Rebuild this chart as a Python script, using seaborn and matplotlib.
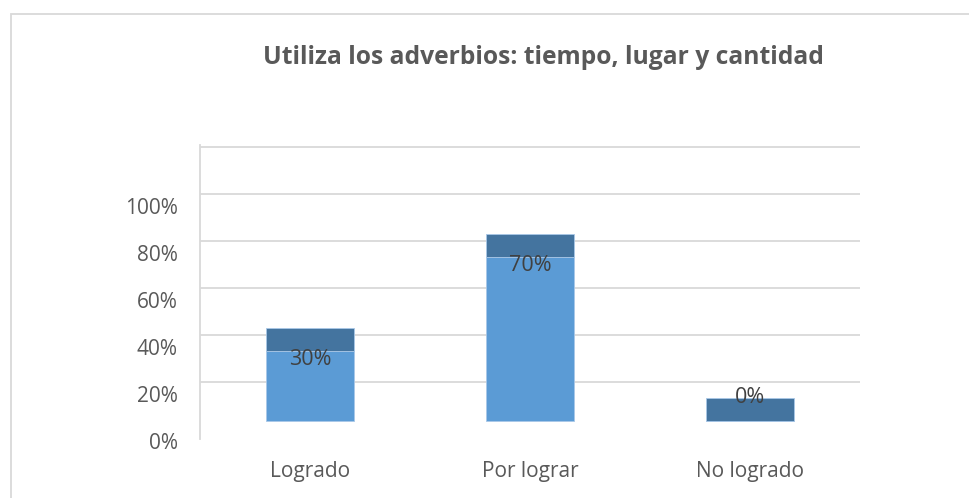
import matplotlib
matplotlib.use("Agg")
import matplotlib.pyplot as plt
import matplotlib.transforms as mtransforms
from matplotlib.patches import Rectangle
import seaborn as sns
import pandas as pd

# datos del grafico
categorias = ["Logrado", "Por lograr", "No logrado"]
porcentajes = [30, 70, 0]
ticks_y = [0, 20, 40, 60, 80, 100, 120]
etiquetas_y = ["0%", "20%", "40%", "60%", "80%", "100%", ""]
titulo = "Utiliza los adverbios: tiempo, lugar y cantidad"

sns.set_style("white")
plt.rcParams["font.family"] = ["Open Sans", "DejaVu Sans"]

gris = "#595959"
azul = "#5B9BD5"
azul_osc = "#44749F"
piso = 3.4    # desplazamiento del "3D"
tapa = 9.6    # alto de la cara superior

df = pd.DataFrame({"cat": categorias, "val": porcentajes})

fig = plt.figure(figsize=(9.7, 4.98), dpi=100)
ax = fig.add_axes([200 / 970, 59 / 498, 660 / 970, 294 / 498])

sns.barplot(data=df, x="cat", y="val", color=azul, width=0.4, saturation=1,
            edgecolor="#A9C8E8", linewidth=0.6, ax=ax)
for p in ax.patches:
    p.set_y(piso)

pos = list(range(len(categorias)))
ax.bar(pos, [tapa] * len(pos), bottom=[piso + v for v in porcentajes], width=0.4,
       color=azul_osc, edgecolor="#A9C8E8", linewidth=0.6, zorder=3)

for x, v in zip(pos, porcentajes):
    y = piso + v - 3.8 if v > 0 else piso + tapa + 0.2
    ax.text(x, y, f"{v}%", ha="center", va="center", fontsize=15.5, color="#404040", zorder=4)

ax.set_xlim(-0.5, 2.5)
ax.set_ylim(-4.26, 120.85)
ax.set_yticks(ticks_y)
ax.set_yticklabels(etiquetas_y)
ax.yaxis.grid(True, color="#D9D9D9", linewidth=1.3)
ax.get_ygridlines()[0].set_visible(False)
ax.set_axisbelow(True)
ax.tick_params(axis="y", length=0, pad=16, labelsize=15, labelcolor=gris)
ax.tick_params(axis="x", length=0, pad=16, labelsize=15, labelcolor=gris)
desplaza = mtransforms.ScaledTranslation(0, -12 / 100, fig.dpi_scale_trans)
for lab in ax.get_yticklabels():
    lab.set_transform(lab.get_transform() + desplaza)
ax.set_xlabel("")
ax.set_ylabel("")

for s in ["top", "right", "bottom"]:
    ax.spines[s].set_visible(False)
ax.spines["left"].set_color("#D9D9D9")
ax.spines["left"].set_linewidth(1.3)

fig.text(543 / 970, 1 - 57 / 498, titulo, ha="center", va="center",
         fontsize=17.7, fontweight="bold", color=gris)

fig.patches.append(Rectangle((11 / 970, -0.1), 1.2, 1 - 14 / 498 + 0.1,
                             transform=fig.transFigure, fill=False,
                             edgecolor="#D9D9D9", linewidth=1.3))

fig.savefig("out.png", dpi=100)
